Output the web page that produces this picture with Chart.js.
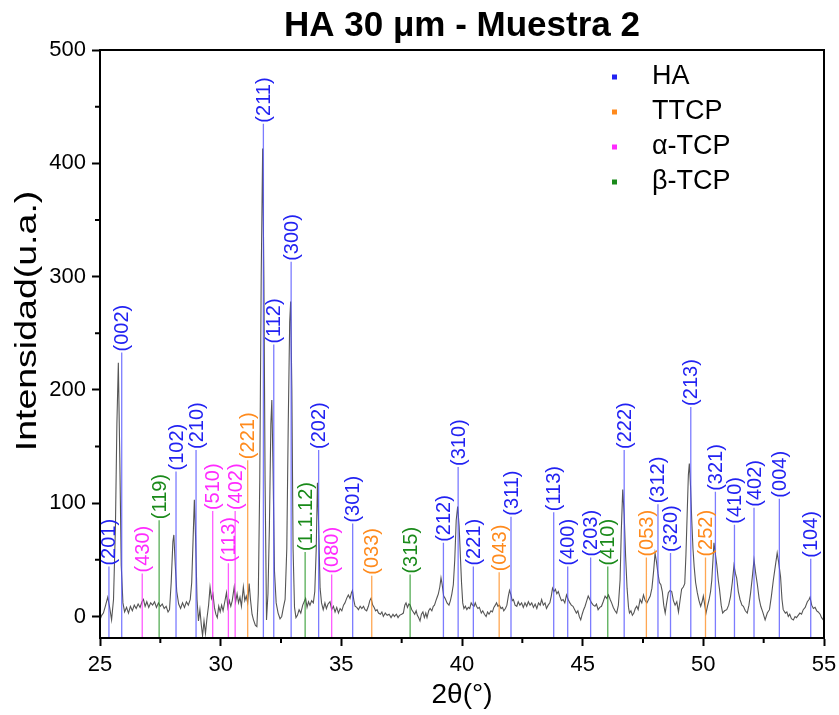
<!DOCTYPE html>
<html>
<head>
<meta charset="utf-8">
<title>HA 30 µm - Muestra 2</title>
<script src="https://cdn.jsdelivr.net/npm/chart.js@4.4.1/dist/chart.umd.min.js"></script>
<style>
  html, body { margin: 0; padding: 0; background: #fff; }
</style>
</head>
<body>
<canvas id="xrdChart" width="839" height="715"></canvas>
<script>
// XRD pattern (2theta in degrees, intensity in a.u.)
const twoTheta = [
  25.00, 25.07, 25.14, 25.22, 25.32, 25.40, 25.48, 25.56, 25.64, 25.70, 25.76, 25.82, 25.88, 25.95,
  26.02, 26.10, 26.18, 26.26, 26.34, 26.42, 26.50, 26.58, 26.66, 26.74, 26.80, 26.87, 26.94,
  27.02, 27.10, 27.18, 27.26, 27.34, 27.42, 27.50, 27.58, 27.66, 27.74, 27.82, 27.88, 27.95,
  28.02, 28.06, 28.12, 28.18, 28.26, 28.34, 28.42, 28.50, 28.58, 28.66, 28.74, 28.80, 28.86, 28.91, 28.96,
  29.02, 29.08, 29.14, 29.20, 29.25, 29.31, 29.37, 29.43, 29.50, 29.56, 29.62, 29.68, 29.74, 29.80, 29.86, 29.92, 29.98,
  30.04, 30.10, 30.17, 30.24, 30.30, 30.36, 30.42, 30.48, 30.56, 30.62, 30.68, 30.74, 30.80, 30.86, 30.94,
  31.00, 31.06, 31.12, 31.18, 31.24, 31.30, 31.36, 31.44, 31.50, 31.56, 31.62, 31.68, 31.74, 31.79, 31.84, 31.90, 31.96,
  32.02, 32.08, 32.12, 32.17, 32.23, 32.30, 32.38, 32.46, 32.53, 32.60, 32.67, 32.74, 32.80, 32.86, 32.90, 32.95,
  33.00, 33.06, 33.12, 33.18, 33.25, 33.32, 33.40, 33.46, 33.52, 33.58, 33.64, 33.70, 33.77, 33.84, 33.90, 33.96,
  34.01, 34.06, 34.12, 34.18, 34.25, 34.32, 34.38, 34.45, 34.53, 34.60, 34.67, 34.74, 34.81, 34.88, 34.95,
  35.02, 35.09, 35.15, 35.22, 35.29, 35.36, 35.42, 35.46, 35.52, 35.57, 35.64, 35.71, 35.78, 35.85, 35.92, 35.98,
  36.05, 36.12, 36.18, 36.23, 36.30, 36.36, 36.42, 36.48, 36.54, 36.62, 36.68, 36.74, 36.82, 36.90, 36.98,
  37.06, 37.14, 37.20, 37.28, 37.35, 37.41, 37.50, 37.57, 37.63, 37.68, 37.74, 37.80, 37.85, 37.92, 37.98,
  38.04, 38.10, 38.15, 38.20, 38.26, 38.32, 38.38, 38.44, 38.50, 38.55, 38.62, 38.68, 38.75, 38.81, 38.86, 38.92, 38.97,
  39.02, 39.08, 39.13, 39.18, 39.24, 39.30, 39.38, 39.46, 39.52, 39.58, 39.64, 39.70, 39.76, 39.82, 39.88, 39.93, 39.98,
  40.03, 40.08, 40.14, 40.20, 40.26, 40.32, 40.38, 40.44, 40.50, 40.55, 40.60, 40.66, 40.72, 40.80, 40.86, 40.93,
  41.00, 41.06, 41.12, 41.20, 41.26, 41.32, 41.38, 41.43, 41.49, 41.55, 41.62, 41.68, 41.73, 41.80, 41.86, 41.92, 41.97,
  42.03, 42.08, 42.13, 42.20, 42.27, 42.33, 42.40, 42.47, 42.54, 42.61, 42.68, 42.75, 42.82, 42.89, 42.96,
  43.03, 43.10, 43.17, 43.24, 43.30, 43.37, 43.44, 43.50, 43.57, 43.64, 43.70, 43.75, 43.81, 43.87, 43.93, 43.99,
  44.05, 44.12, 44.19, 44.26, 44.33, 44.40, 44.47, 44.53, 44.60, 44.67, 44.74, 44.80, 44.86, 44.92, 44.98,
  45.04, 45.10, 45.17, 45.23, 45.30, 45.37, 45.44, 45.51, 45.57, 45.64, 45.71, 45.78, 45.85, 45.93,
  46.00, 46.07, 46.14, 46.20, 46.27, 46.34, 46.41, 46.48, 46.55, 46.60, 46.66, 46.72, 46.78, 46.84, 46.90, 46.94,
  47.00, 47.06, 47.12, 47.18, 47.24, 47.30, 47.38, 47.45, 47.52, 47.59, 47.66, 47.73, 47.80, 47.87, 47.94,
  48.00, 48.06, 48.12, 48.18, 48.24, 48.30, 48.36, 48.42, 48.48, 48.55, 48.62, 48.69, 48.76, 48.83, 48.90, 48.97,
  49.04, 49.10, 49.17, 49.23, 49.28, 49.33, 49.38, 49.42, 49.47, 49.52, 49.57, 49.62, 49.68, 49.75, 49.82, 49.89, 49.95,
  50.00, 50.06, 50.11, 50.17, 50.24, 50.30, 50.35, 50.40, 50.44, 50.50, 50.56, 50.62, 50.67, 50.74, 50.80, 50.88, 50.97,
  51.05, 51.13, 51.20, 51.27, 51.33, 51.38, 51.45, 51.52, 51.60, 51.66, 51.74, 51.82, 51.89, 51.96,
  52.03, 52.10, 52.17, 52.24, 52.31, 52.38, 52.46, 52.56, 52.65, 52.74, 52.82, 52.90, 52.98,
  53.06, 53.12, 53.20, 53.26, 53.31, 53.40, 53.46, 53.52, 53.58, 53.65, 53.73, 53.80, 53.86, 53.93,
  54.00, 54.07, 54.14, 54.22, 54.31, 54.38, 54.42, 54.49, 54.56, 54.63, 54.70, 54.76, 54.84, 54.90, 54.97
];
const intensity = [
  -3, 1, 3, 9, 17, 8, -3, 15, 80, 170, 224, 140, 45, 12,
  4, 8, 3, 9, 5, 10, 7, 11, 8, 13, 15, 9, 13,
  8, 12, 10, 13, 8, 12, 9, 11, 7, 9, 4, 6, 30,
  66, 72, 45, 22, 11, 7, 12, 8, 13, 10, 15, 30, 70, 103, 70,
  15, -4, 6, -8, -17, -4, -15, -2, 10, 26, 16, 20, 8, 2, -1, 9, 4,
  10, 5, 13, 21, 8, 14, 9, 14, 26, 13, 20, 12, 17, 9, 26,
  14, 18, 12, 29, 14, 2, -3, -8, -9, 20, 120, 300, 413, 300, 120, -3, 20,
  80, 170, 191, 130, 40, 12, 3, -2, 0, 8, 15, 60, 170, 260, 278, 200,
  60, 8, -1, 1, 6, 3, 10, 13, 16, 8, 13, 10, 14, 12, 22, 60,
  118, 80, 25, 12, 6, 12, 7, 11, 13, 6, 9, 4, 8, 3, 7,
  5, 10, 12, 16, 19, 16, 21, 23, 14, 9, 8, 6, 9, 7, 9, 6,
  5, 9, 14, 16, 10, 8, 5, 6, 3, 2, 4, 0, 3, 1, 2,
  -1, 2, 0, 2, -1, 1, 2, 3, 10, 12, 8, 11, 10, 6, 4,
  2, 5, 1, -1, -4, 2, 4, -1, 3, -1, 5, 7, 5, 9, 10, 14, 17,
  20, 26, 34, 28, 18, 16, 12, 10, 14, 20, 28, 50, 85, 97, 80, 55, 30,
  12, 7, 9, 6, 8, 7, 12, 10, 9, 12, 9, 7, 8, 3, 5, 2,
  0, 4, 2, 5, 4, 8, 10, 12, 9, 10, 7, 8, 5, 7, 10, 18, 23,
  19, 14, 15, 10, 9, 13, 10, 12, 8, 12, 9, 13, 10, 12, 8,
  11, 7, 12, 10, 15, 10, 12, 7, 10, 12, 18, 25, 22, 24, 20, 22,
  18, 14, 15, 12, 19, 15, 12, 10, 9, 6, 3, 5, 0, -3, 2,
  6, 9, 14, 18, 15, 12, 10, 9, 11, 6, 8, 9, 13, 18,
  16, 19, 15, 12, 8, 5, 3, 10, 32, 75, 112, 90, 53, 25, 8, 3,
  5, 1, 3, 7, 9, 6, 15, 12, 19, 14, 12, 15, 18, 25, 40,
  56, 48, 38, 30, 28, 22, 10, 3, 12, 21, 23, 22, 14, 10, 13, 4,
  15, 24, 26, 29, 55, 90, 125, 135, 115, 85, 60, 44, 30, 21, 14, 9, 13,
  18, 10, 3, 9, 15, 22, 32, 50, 65, 55, 45, 32, 24, 10, 3, 5, 6,
  10, 18, 30, 45, 38, 34, 22, 15, 10, 9, 5, 3, 10, 21,
  35, 50, 38, 28, 16, 9, 4, -3, 3, 6, 18, 32, 44,
  56, 48, 35, 15, 6, 3, 4, 0, 2, -2, -3, 0, -1, 1,
  3, 2, 6, 8, 13, 15, 17, 10, 7, 8, 5, 4, 2, -1, -3
];

// Reference lines: position (2theta), top of the marker line, Miller index label
const haPos = [25.37, 25.90, 28.15, 28.98, 31.77, 32.20, 32.92, 34.06, 35.47, 39.23, 39.84, 40.47, 42.03,
  43.80, 44.38, 45.33, 46.72, 48.12, 48.64, 49.48, 50.50, 51.29, 52.10, 53.15, 54.45];
const haTop = [44, 233, 128, 147, 435, 240, 313, 147, 82, 65, 132, 44, 88,
  92, 44, 52, 147, 99, 56, 185, 110, 81, 96, 104, 51];
const haHkl = ['(201)', '(002)', '(102)', '(210)', '(211)', '(112)', '(300)', '(202)', '(301)', '(212)', '(310)', '(221)', '(311)',
  '(113)', '(400)', '(203)', '(222)', '(312)', '(320)', '(213)', '(321)', '(410)', '(402)', '(004)', '(104)'];

const ttcpPos = [31.12, 36.26, 41.54, 47.64, 50.09];
const ttcpTop = [138, 36, 39, 52, 52];
const ttcpHkl = ['(221)', '(033)', '(043)', '(053)', '(252)'];

const alphaPos = [26.75, 29.67, 30.32, 30.60, 34.60];
const alphaTop = [38, 93, 47, 93, 37];
const alphaHkl = ['(430)', '(510)', '(113)', '(402)', '(080)'];

const betaPos = [27.45, 33.50, 37.85, 46.04];
const betaTop = [85, 57, 37, 44];
const betaHkl = ['(119)', '(1.1.12)', '(315)', '(410)'];

const yMin = -19;
const yMax = 500;
const yTitle = 'Intensidad(u.a.)';

const FONT = '"Liberation Sans", Arial, sans-serif';

const phases = [
  { name: 'HA', pos: haPos, top: haTop, hkl: haHkl, line: 'rgba(80, 80, 255, 0.75)', text: '#2222f2' },
  { name: 'TTCP', pos: ttcpPos, top: ttcpTop, hkl: ttcpHkl, line: 'rgba(255, 145, 40, 0.8)', text: '#ff8a1c' },
  { name: 'α-TCP', pos: alphaPos, top: alphaTop, hkl: alphaHkl, line: 'rgba(255, 50, 255, 0.8)', text: '#ff2aff' },
  { name: 'β-TCP', pos: betaPos, top: betaTop, hkl: betaHkl, line: 'rgba(30, 145, 30, 0.75)', text: '#1a8a1a' }
];

// vertical sticks: bottom of axis up to the top value, broken by nulls
function stickData(pos, top) {
  const pts = [];
  pos.forEach((p, i) => {
    pts.push({ x: p, y: yMin }, { x: p, y: top[i] }, { x: p, y: null });
  });
  return pts;
}

const phaseDatasets = phases.map((ph) => ({
  label: ph.name,
  data: stickData(ph.pos, ph.top),
  borderColor: ph.line,
  backgroundColor: ph.text,
  borderWidth: 1.3,
  pointRadius: 0,
  spanGaps: false,
  tension: 0,
}));

const patternDataset = {
  label: 'pattern',
  data: twoTheta.map((t, i) => ({ x: t, y: intensity[i] })),
  borderColor: '#555555',
  borderWidth: 1.1,
  pointRadius: 0,
  tension: 0,
};

// hkl labels above each stick, rotated
const hklLabels = {
  id: 'hklLabels',
  afterDatasetsDraw(chart) {
    const { ctx, scales } = chart;
    ctx.save();
    ctx.font = '20px ' + FONT;
    ctx.textAlign = 'left';
    ctx.textBaseline = 'middle';
    phases.forEach((ph) => {
      ctx.fillStyle = ph.text;
      ph.pos.forEach((p, i) => {
        const px = scales.x.getPixelForValue(p);
        const py = scales.y.getPixelForValue(ph.top[i]) - 1;
        ctx.save();
        ctx.translate(px + 1, py);
        ctx.rotate(-Math.PI / 2);
        ctx.fillText(ph.hkl[i], 0, 0);
        ctx.restore();
      });
    });
    ctx.restore();
  }
};

// frame, minor ticks, y title (stretched like the original) and legend
const frameAndLegend = {
  id: 'frameAndLegend',
  afterDraw(chart) {
    const { ctx, chartArea: a, scales } = chart;
    ctx.save();
    ctx.strokeStyle = '#000';
    ctx.lineWidth = 2;
    ctx.strokeRect(a.left, a.top, a.right - a.left, a.bottom - a.top);

    // minor ticks
    ctx.beginPath();
    for (let v = 27.5; v < 55; v += 5) {
      const px = scales.x.getPixelForValue(v);
      ctx.moveTo(px, a.bottom);
      ctx.lineTo(px, a.bottom + 5);
    }
    for (let v = 50; v < 500; v += 100) {
      const py = scales.y.getPixelForValue(v);
      ctx.moveTo(a.left, py);
      ctx.lineTo(a.left - 5, py);
    }
    ctx.stroke();

    // y axis title
    ctx.save();
    ctx.fillStyle = '#000';
    ctx.font = '30px ' + FONT;
    ctx.textAlign = 'center';
    ctx.textBaseline = 'middle';
    ctx.translate(28, 321);
    ctx.rotate(-Math.PI / 2);
    ctx.scale(1.25, 1);
    ctx.fillText(yTitle, 0, 0);
    ctx.restore();

    // legend
    ctx.font = '27px ' + FONT;
    ctx.textAlign = 'left';
    ctx.textBaseline = 'middle';
    phaseDatasets.forEach((ds, i) => {
      const y = 77 + i * 35;
      ctx.fillStyle = ds.backgroundColor;
      ctx.fillRect(612, y - 2.5, 5, 5);
      ctx.fillStyle = '#000';
      ctx.fillText(ds.label, 652, y);
    });
    ctx.restore();
  }
};

const chart = new Chart(document.getElementById('xrdChart'), {
  type: 'line',
  data: {
    datasets: [...phaseDatasets, patternDataset],
  },
  options: {
    responsive: false,
    animation: false,
    layout: { padding: { right: 15 } },
    plugins: {
      legend: { display: false },
      tooltip: { enabled: false },
      title: {
        display: true,
        fullSize: false,
        text: 'HA 30 μm - Muestra 2',
        color: '#000',
        font: { family: FONT, size: 35, weight: 'bold', lineHeight: 1.2 },
        padding: { top: 5, bottom: 3 },
      },
    },
    scales: {
      x: {
        type: 'linear',
        min: 25,
        max: 55,
        afterFit(scale) {
          scale.height = 77;
          scale.paddingLeft = 0;
          scale.paddingRight = 0;
        },
        ticks: {
          stepSize: 5,
          color: '#000',
          padding: 6,
          maxRotation: 0,
          font: { family: FONT, size: 22 },
        },
        grid: { drawOnChartArea: false, tickLength: 8, tickWidth: 2, tickColor: '#000' },
        border: { color: '#000', width: 2 },
        title: {
          display: true,
          text: '2θ(°)',
          color: '#000',
          font: { family: FONT, size: 28, lineHeight: 1.2 },
          padding: { top: 0, bottom: 3 },
        },
      },
      y: {
        type: 'linear',
        min: yMin,
        max: yMax,
        afterFit(scale) { scale.width = 100; },
        ticks: {
          stepSize: 100,
          includeBounds: false,
          color: '#000',
          padding: 6,
          font: { family: FONT, size: 22 },
        },
        grid: { drawOnChartArea: false, tickLength: 8, tickWidth: 2, tickColor: '#000' },
        border: { color: '#000', width: 2 },
        title: { display: false },
      },
    },
  },
  plugins: [hklLabels, frameAndLegend],
});
</script>
</body>
</html>
